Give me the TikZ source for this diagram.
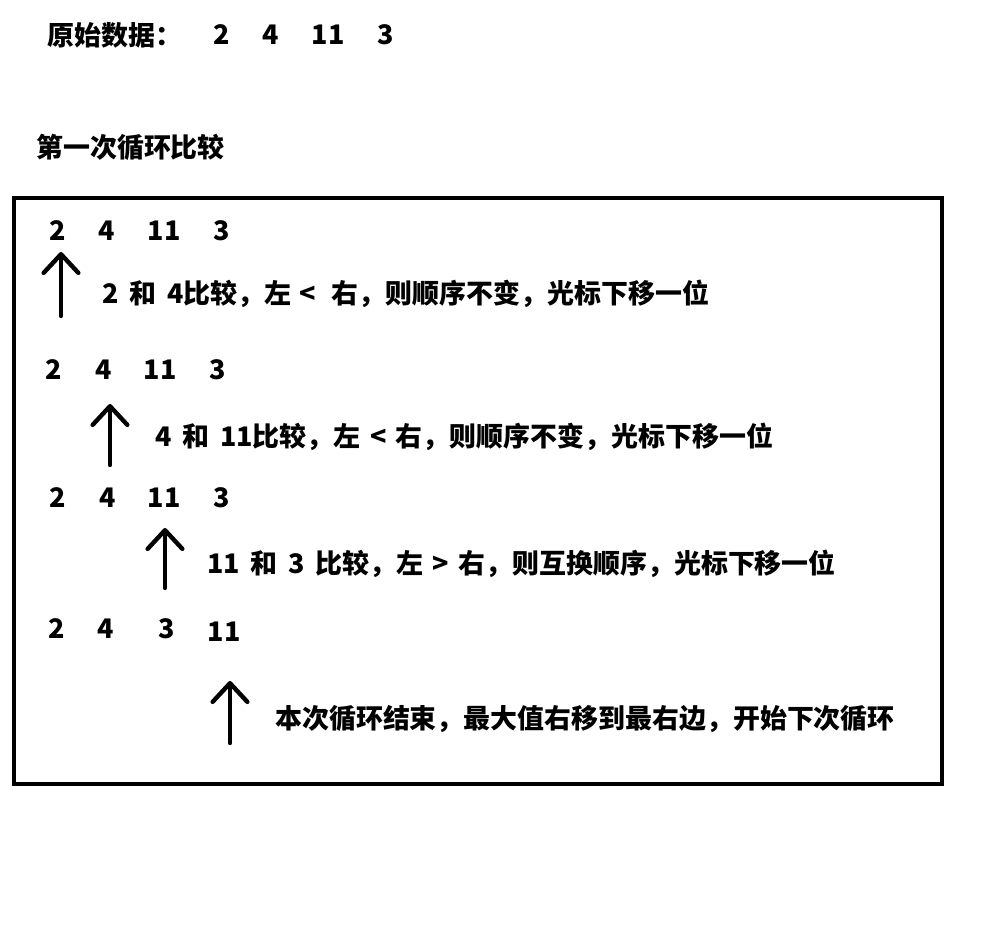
\documentclass[tikz,border=0pt]{standalone}
\usepackage{fontspec}
\setmainfont{Noto Sans CJK SC}
\usetikzlibrary{arrows.meta, positioning}
\tikzstyle{num} = [inner sep=0pt, font=\bfseries\fontsize{20.2}{24}\selectfont]
\tikzstyle{note} = [anchor=west, inner sep=0pt, font={\bfseries\fontsize{20.2}{24}\selectfont\spaceskip=0.4em\relax}]
\tikzstyle{pointer} = [line width=3.3pt, line cap=round, -{Straight Barb[length=14pt, width=26pt, line cap=round, line join=round]}]

\begin{document}
\begin{tikzpicture}[x=0.75pt, y=-0.75pt]
		\useasboundingbox (0,0) rectangle (989,927);
		% raw data
		\node (Raw Title)[note] at (47,35){原始数据：};
		\node (Raw 2)[num] at (222,35){2};
		\node (Raw 4)[num] at (271,35){4};
		\node (Raw 11)[num] at (328,35){11};
		\node (Raw 3)[num] at (386,35){3};
		\node (Round Title)[note] at (36,147){第一次循环比较};
		\draw [line width=3pt] (14,198) rectangle (942,784);
		% step 1
		\node (A 2)[num] at (58,231){2};
		\node (A 4)[num] at (107,231){4};
		\node (A 11)[num] at (164,231){11};
		\node (A 3)[num] at (222,231){3};
		\coordinate (Tail A) at (61,316);
		\coordinate (Tip A) at (61,252);
		\draw [pointer] (Tail A) -- (Tip A);
		\node (Note A)[note] at (102,294){2 和 4比较，左\hspace{0.3em}<\hspace{0.6em}右，则顺序不变，光标下移一位};
		% step 2
		\node (B 2)[num] at (54,370){2};
		\node (B 4)[num] at (104,370){4};
		\node (B 11)[num] at (160,370){11};
		\node (B 3)[num] at (218,370){3};
		\coordinate (Tail B) at (110,465);
		\coordinate (Tip B) at (110,404);
		\draw [pointer] (Tail B) -- (Tip B);
		\node (Note B)[note] at (155,437){4 和 11比较，左\hspace{0.35em}<\hspace{0.35em}右，则顺序不变，光标下移一位};
		% step 3
		\node (C 2)[num] at (58,498){2};
		\node (C 4)[num] at (108,498){4};
		\node (C 11)[num] at (164,498){11};
		\node (C 3)[num] at (222,498){3};
		\coordinate (Tail C) at (165,588);
		\coordinate (Tip C) at (165,528);
		\draw [pointer] (Tail C) -- (Tip C);
		\node (Note C)[note] at (207,564){11 和 3 比较，左\hspace{0.35em}>\hspace{0.35em}右，则互换顺序，光标下移一位};
		% step 4
		\node (D 2)[num] at (57,629){2};
		\node (D 4)[num] at (106,629){4};
		\node (D 3)[num] at (167,629){3};
		\node (D 11)[num] at (224,632){11};
		\coordinate (Tail D) at (230,743);
		\coordinate (Tip D) at (230,681);
		\draw [pointer] (Tail D) -- (Tip D);
		\node (Note D)[note] at (275,719){本次循环结束，最大值右移到最右边，开始下次循环};
	\end{tikzpicture}
\end{document}
